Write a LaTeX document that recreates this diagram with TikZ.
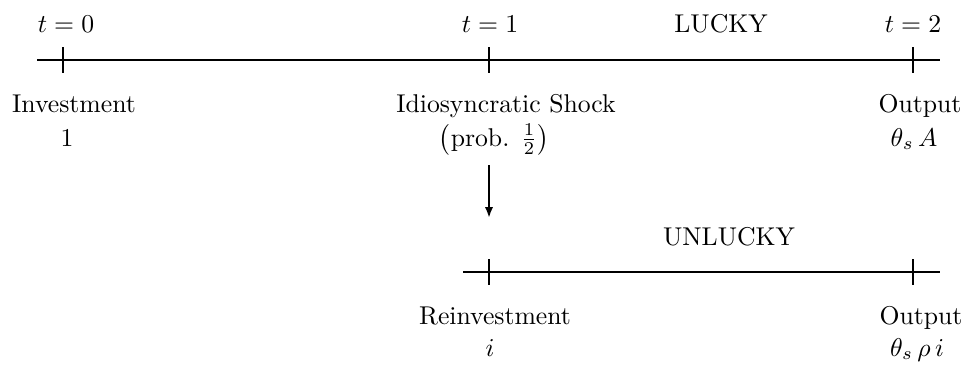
\documentclass[tikz,border=0pt]{standalone}
\usetikzlibrary{arrows.meta,positioning}
\begin{document}
\begin{tikzpicture}[x=0.389pt,y=-0.389pt,>={Latex[length=4.2pt,width=3.2pt]},
  axis/.style={line width=1pt},
  lbl/.style={anchor=base,inner sep=0pt,text height=6.5pt,text depth=2pt}]
\useasboundingbox (0,0) rectangle (967,364);
% lucky branch
\coordinate (lstart) at (37,60);
\coordinate (lend) at (940,60);
\coordinate (t0) at (63,60);
\coordinate (t1) at (489,60);
\coordinate (t2) at (913,60);
% unlucky branch
\coordinate (ustart) at (463,272);
\coordinate (uend) at (940,272);
\coordinate (u1) at (489,272);
\coordinate (u2) at (913,272);
\draw[axis] (lstart) -- (lend);
\draw[axis] (ustart) -- (uend);
\foreach \p in {t0,t1,t2,u1,u2}
  \draw[axis] ([yshift=4.9pt]\p) -- ([yshift=-4.9pt]\p);
% dates
\node[lbl] (date0) at (66,33) {$t=0$};
\node[lbl] (date1) at (490,33) {$t=1$};
\node[lbl] (date2) at (913,33) {$t=2$};
\node[lbl] (lucky) at (721,33) {LUCKY};
\node[lbl] (unlucky) at (729,245) {UNLUCKY};
% events
\node[lbl] (inv) at (74,112) {Investment};
\node[lbl] (invval) at (67,146) {$1$};
\node[lbl] (shock) at (506,112) {Idiosyncratic Shock};
\node[lbl] (prob) at (494,146) {$\bigl(\mbox{prob. }\frac{1}{2}\bigr)$};
\node[lbl] (outl) at (920,112) {Output};
\node[lbl] (outlval) at (914,146) {$\theta_s\,A$};
\node[lbl] (reinv) at (495,324) {Reinvestment};
\node[lbl] (reinvval) at (490,356) {$i$};
\node[lbl] (outu) at (921,324) {Output};
\node[lbl] (outuval) at (917,356) {$\theta_s\,\rho\,i$};
% shock arrow
\coordinate (shocktop) at (489,165);
\coordinate (shockbot) at (489,218);
\draw[axis,->] (shocktop) -- (shockbot);
\end{tikzpicture}
\end{document}
